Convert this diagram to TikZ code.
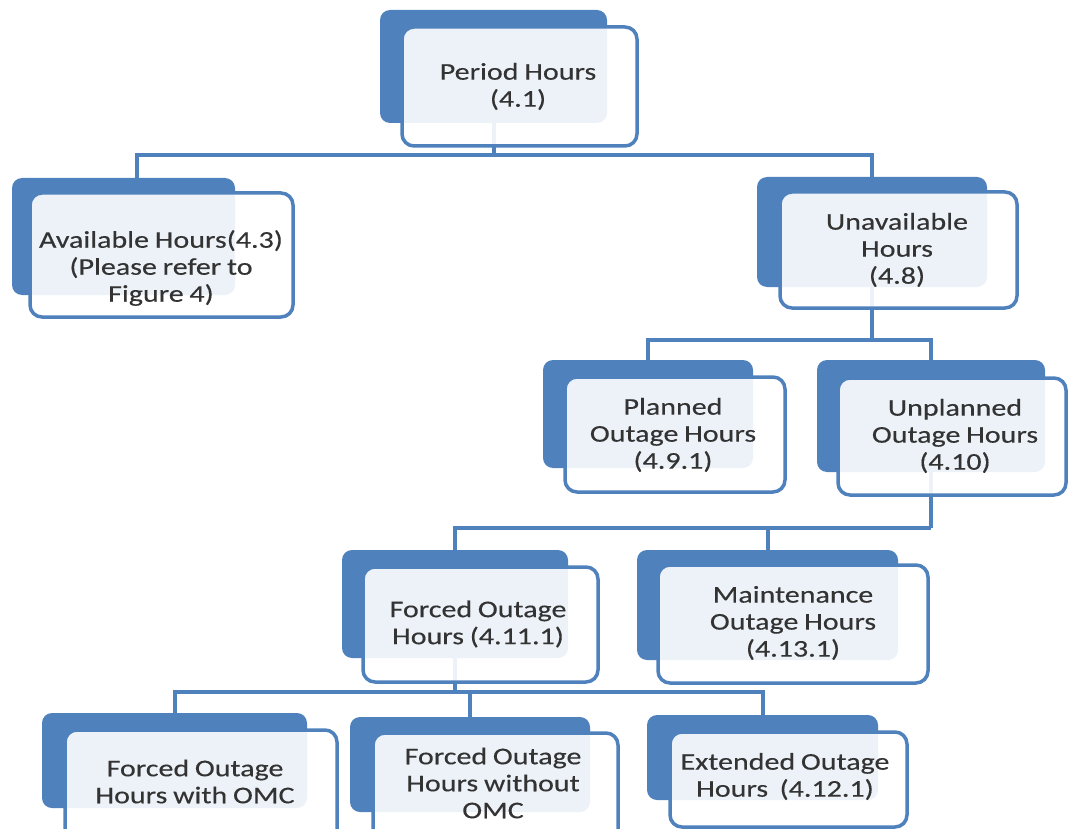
\documentclass[tikz,border=0pt]{standalone}
\usepackage{fontspec}
\setmainfont{Carlito}[FakeStretch=1.25, FakeBold=0.3, WordSpace=0.85]
\pgfdeclarelayer{background}
\pgfsetlayers{background,main}
\definecolor{boxblue}{HTML}{4F81BD}
\definecolor{textgrey}{HTML}{333333}
\begin{document}
\begin{tikzpicture}[x=1pt,y=-1pt,
  backbox/.style={fill=boxblue, rounded corners=10pt, inner sep=0pt},
  frontbox/.style={draw=boxblue, line width=3.5pt, fill=white, fill opacity=0.9,
    draw opacity=1, rounded corners=12pt, inner sep=0pt},
  boxtext/.style={align=center, text=textgrey, inner sep=0pt,
    font=\fontsize{24}{27}\selectfont},
  conn/.style={draw=boxblue, line width=4pt},
  size/.style 2 args={minimum width=#1, minimum height=#2}]

\clip (0,0) rectangle (1068,829);

% back plates
\node[backbox, size={227pt}{113pt}] (per-b) at (493.5,66.5) {};
\node[backbox, size={223pt}{117pt}] (avl-b) at (123.5,236.5) {};
\node[backbox, size={230pt}{110pt}] (una-b) at (872,232) {};
\node[backbox, size={210pt}{108pt}] (pln-b) at (648,414) {};
\node[backbox, size={228pt}{112pt}] (unp-b) at (931,416) {};
\node[backbox, size={226pt}{108pt}] (foh-b) at (455,604) {};
\node[backbox, size={261pt}{110pt}] (mnt-b) at (767.5,605) {};
\node[backbox, size={265pt}{95pt}]  (fwo-b) at (174.5,760.5) {};
\node[backbox, size={240pt}{95pt}]  (fwn-b) at (470,764.5) {};
\node[backbox, size={231pt}{85pt}]  (ext-b) at (762.5,757.5) {};

% front panels
\node[frontbox, size={235pt}{119pt}] (per) at (519.5,86.5) {};
\node[frontbox, size={263pt}{124pt}] (avl) at (161.5,255) {};
\node[frontbox, size={237pt}{116pt}] (una) at (898.5,250) {};
\node[frontbox, size={220pt}{115pt}] (pln) at (675,434.5) {};
\node[frontbox, size={228pt}{117pt}] (unp) at (952,436.5) {};
\node[frontbox, size={235pt}{115pt}] (foh) at (480.5,624.5) {};
\node[frontbox, size={270pt}{118pt}] (mnt) at (793,624) {};
\node[frontbox, size={272pt}{115pt}] (fwo) at (201,787.5) {};
\node[frontbox, size={245pt}{112pt}] (fwn) at (495.5,789) {};
\node[frontbox, size={237pt}{95pt}]  (ext) at (788.5,779.5) {};

% labels
\node[boxtext] (per-t) at (518,86.5) {Period Hours\\(4.1)};
\node[boxtext] (avl-t) at (161,268) {Available Hours(4.3)\\ (Please refer to\\Figure 4)};
\node[boxtext] (una-t) at (897,250) {Unavailable\\Hours\\(4.8)};
\node[boxtext] (pln-t) at (673,435) {Planned\\Outage Hours\\(4.9.1)};
\node[boxtext] (unp-t) at (955,436) {Unplanned\\Outage Hours\\(4.10)};
\node[boxtext] (foh-t) at (478,624) {Forced Outage\\Hours (4.11.1)};
\node[boxtext] (mnt-t) at (793,623) {Maintenance\\Outage Hours\\(4.13.1)};
\node[boxtext] (fwo-t) at (195,781.5) {Forced Outage\\Hours with OMC};
\node[boxtext] (fwn-t) at (493,783) {Forced Outage\\Hours without\\OMC};
\node[boxtext] (ext-t) at (785,776.5) {Extended Outage\\Hours~~(4.12.1)};

% bus levels
\coordinate (bus1) at (0,155);
\coordinate (bus2) at (0,340);
\coordinate (bus3) at (0,528);
\coordinate (bus4) at (0,692);

% connectors, behind the boxes
\begin{pgfonlayer}{background}
\draw[conn] (per-b.south) -- (per-b.south |- bus1);
\draw[conn] ([xshift=13.5pt]avl-b.north) |- (bus1 -| una-b.north) -- (una-b.north);
\draw[conn] (una-b.south) -- (una-b.south |- bus2);
\draw[conn] (pln-b.north) |- (bus2 -| unp-b.north) -- (unp-b.north);
\draw[conn] (unp-b.south) -- (unp-b.south |- bus3);
\draw[conn] (foh-b.north) |- (bus3 -| unp-b.south);
\draw[conn] (mnt-b.north) -- (mnt-b.north |- bus3);
\draw[conn] (foh-b.south) -- (foh-b.south |- bus4);
\draw[conn] (fwo-b.north) |- (bus4 -| ext-b.north) -- (ext-b.north);
\draw[conn] (fwn-b.north) -- (fwn-b.north |- bus4);
\end{pgfonlayer}
\end{tikzpicture}
\end{document}
